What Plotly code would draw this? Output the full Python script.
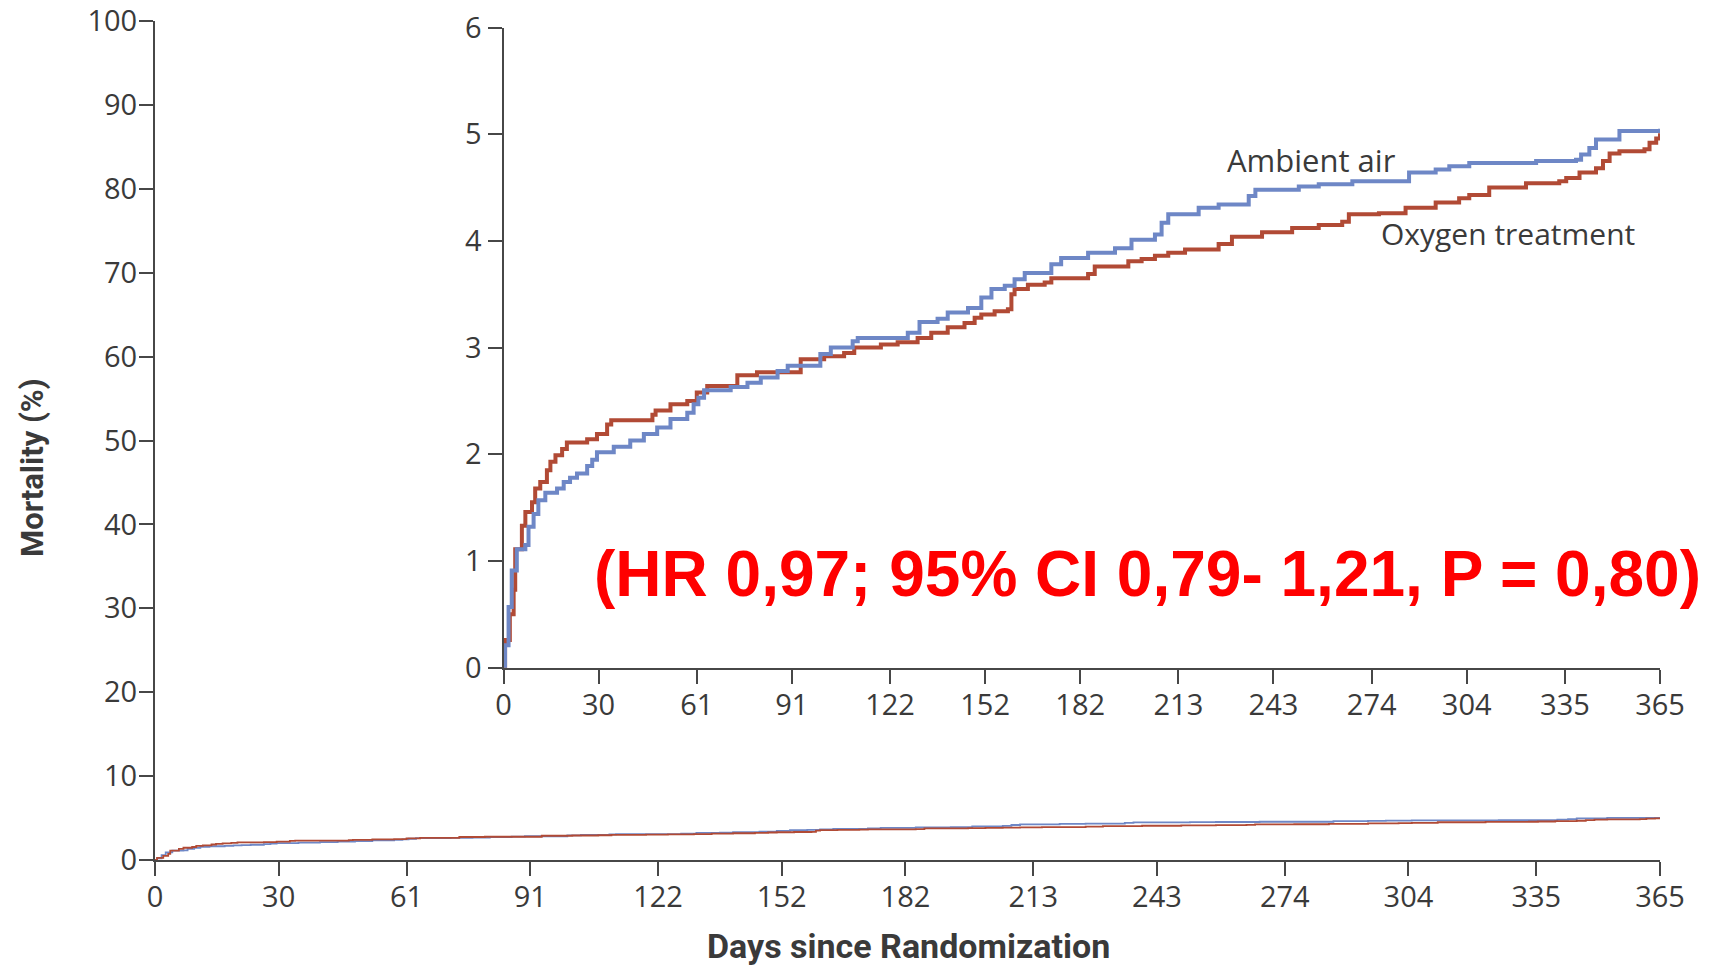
import plotly.graph_objects as go

# ---------------- data ----------------
tick_days = [0, 30, 61, 91, 122, 152, 182, 213, 243, 274, 304, 335, 365]

oxygen_days = [0, 0.5, 2, 3.2, 3.7, 5.8, 6.9, 9, 10, 11.6, 13.7, 14.8, 16.4, 18.5, 20,
               26.4, 29.5, 32.7, 34, 47, 48, 52.7, 58, 61, 64.3, 73.8, 80, 93.8, 101.2,
               107.5, 110.7, 119.1, 124.4, 130.7, 135, 140.2, 145.5, 148.7, 150.8, 155,
               159.2, 160.3, 161.3, 165.5, 170.8, 172.9, 184.5, 186.6, 197.2, 201.4,
               205.6, 209.8, 215.1, 225.7, 229.9, 239.4, 248.9, 257.3, 264.7, 266.8,
               276.3, 284.7, 294.2, 301.6, 304.8, 311.1, 322.7, 333.2, 335.4, 339.6,
               344.8, 347, 349.1, 352.2, 360.1, 361.7, 363.8, 365]
oxygen_mort = [0, 0.26, 0.5, 0.73, 1.11, 1.33, 1.46, 1.55, 1.68, 1.74, 1.85, 1.93, 1.99, 2.05, 2.11,
               2.14, 2.19, 2.28, 2.32, 2.37, 2.41, 2.47, 2.50, 2.58, 2.64, 2.74, 2.77, 2.89, 2.92,
               2.95, 3.00, 3.03, 3.05, 3.09, 3.14, 3.19, 3.23, 3.28, 3.31, 3.34,
               3.36, 3.50, 3.55, 3.59, 3.61, 3.65, 3.69, 3.76, 3.81, 3.83,
               3.86, 3.89, 3.92, 3.97, 4.04, 4.08, 4.12, 4.15, 4.18, 4.25,
               4.26, 4.31, 4.36, 4.40, 4.43, 4.50, 4.54, 4.56, 4.59, 4.64,
               4.68, 4.75, 4.82, 4.84, 4.86, 4.92, 4.96, 5.01]

ambient_days = [0, 0.5, 1.6, 2.6, 4.2, 6.9, 7.9, 9.5, 11, 13.2, 16.9, 19, 21, 23.2, 26.4, 28,
                29.5, 34.8, 40, 44.3, 48.5, 52.7, 58, 60, 61.5, 63.3, 71.7, 77, 81.2, 86.5,
                89.7, 100, 103.3, 110.2, 111.8, 127.6, 131.3, 137, 140.2, 146.6, 150.8, 154,
                158.2, 161.3, 164.5, 172.9, 176, 184.5, 193, 198.2, 205.6, 207.7, 209.8,
                219.4, 225.7, 235.2, 237.3, 251, 257.3, 267.9, 285.8, 294.2, 298.5, 304.8,
                325.9, 338.5, 340.1, 342.7, 344.8, 352.2, 365]
ambient_mort = [0, 0.21, 0.57, 0.91, 1.11, 1.15, 1.32, 1.44, 1.57, 1.64, 1.68, 1.74, 1.78, 1.82, 1.89, 1.95,
                2.02, 2.07, 2.13, 2.19, 2.25, 2.33, 2.39, 2.47, 2.53, 2.60, 2.63, 2.67, 2.72, 2.78,
                2.83, 2.94, 3.00, 3.06, 3.09, 3.14, 3.24, 3.27, 3.33, 3.37, 3.47, 3.55,
                3.58, 3.64, 3.70, 3.78, 3.84, 3.89, 3.93, 4.01, 4.06, 4.17, 4.25,
                4.31, 4.34, 4.42, 4.48, 4.51, 4.53, 4.56, 4.64, 4.67, 4.70, 4.73,
                4.75, 4.76, 4.81, 4.87, 4.95, 5.03, 5.05]

main_yticks = list(range(0, 101, 10))
inset_yticks = [0, 1, 2, 3, 4, 5, 6]

series_names = ["Ambient air", "Oxygen treatment"]
annotation_text = "(HR 0,97; 95% CI 0,79- 1,21, P = 0,80)"
x_title = "Days since Randomization"
y_title = "Mortality (%)"

# ---------------- styling ----------------
BLUE = "#6E87C6"
RED = "#B14A35"
AXIS = "#474747"
TXT = "#3a3a3a"
FONT = "Open Sans, Noto Sans, sans-serif"
COND = "Liberation Sans Narrow, Arial Narrow, Roboto, sans-serif"

W, H = 1711, 966
L, T = 155, 21
R = W - 1660
B = H - 860
plot_w = W - L - R
plot_h = H - T - B

def px_x(p):                 # p: x pixel in window coordinates
    return (p - L) / plot_w

def px_y(p):
    return (H - B - p) / plot_h

fig = go.Figure()

# main panel curves (thin)
fig.add_trace(go.Scatter(x=ambient_days, y=ambient_mort, mode="lines", line_shape="hv",
                         line=dict(color=BLUE, width=1.8), xaxis="x", yaxis="y",
                         showlegend=False, hoverinfo="skip"))
fig.add_trace(go.Scatter(x=oxygen_days, y=oxygen_mort, mode="lines", line_shape="hv",
                         line=dict(color=RED, width=1.8), xaxis="x", yaxis="y",
                         showlegend=False, hoverinfo="skip"))

# inset curves
fig.add_trace(go.Scatter(x=oxygen_days, y=oxygen_mort, mode="lines", line_shape="hv",
                         line=dict(color=RED, width=4), xaxis="x2", yaxis="y2",
                         name=series_names[1], showlegend=False))
fig.add_trace(go.Scatter(x=ambient_days, y=ambient_mort, mode="lines", line_shape="hv",
                         line=dict(color=BLUE, width=4), xaxis="x2", yaxis="y2",
                         name=series_names[0], showlegend=False))

def axis_style(standoff):
    return dict(showline=True, linecolor=AXIS, linewidth=2, ticks="outside",
                ticklen=14, tickwidth=2, tickcolor=AXIS, showgrid=False,
                zeroline=False, automargin=False, ticklabelstandoff=standoff,
                ticklabeloverflow="allow",
                tickfont=dict(family=FONT, size=29, color=TXT))

inset_x0 = px_x(503.5)
inset_y0 = px_y(667.7)
inset_y1 = px_y(27.5)

fig.update_layout(
    width=W, height=H,
    margin=dict(l=L, r=R, t=T, b=B, autoexpand=False),
    paper_bgcolor="white", plot_bgcolor="rgba(0,0,0,0)",
    xaxis=dict(domain=[0, 1], range=[0, 365], tickvals=tick_days,
               ticktext=[str(d) for d in tick_days], anchor="y", **axis_style(-4)),
    yaxis=dict(domain=[0, 1], range=[0, 100], tickvals=main_yticks, anchor="x",
               **axis_style(-4)),
    xaxis2=dict(domain=[inset_x0, 1], range=[0, 365], tickvals=tick_days,
                ticktext=[str(d) for d in tick_days], anchor="y2", **axis_style(-4)),
    yaxis2=dict(domain=[inset_y0, inset_y1], range=[0, 6], tickvals=inset_yticks,
                anchor="x2", **axis_style(0)),
    showlegend=False,
)

annotations = [
    dict(text="<b>%s</b>" % x_title, xref="paper", yref="paper",
         x=px_x(908), y=px_y(946), xanchor="center", yanchor="middle",
         showarrow=False, font=dict(family=COND, size=34, color=TXT)),
    dict(text="<b>%s</b>" % y_title, xref="paper", yref="paper",
         x=px_x(33), y=px_y(468), xanchor="center", yanchor="middle", textangle=-90,
         showarrow=False, font=dict(family=COND, size=31, color=TXT)),
    dict(text=series_names[0], xref="paper", yref="paper",
         x=px_x(1311), y=px_y(160), xanchor="center", yanchor="middle",
         showarrow=False, font=dict(family=FONT, size=31, color=TXT)),
    dict(text=series_names[1], xref="paper", yref="paper",
         x=px_x(1508), y=px_y(233), xanchor="center", yanchor="middle",
         showarrow=False, font=dict(family=FONT, size=30, color=TXT)),
    dict(text="<b>%s</b>" % annotation_text, xref="paper", yref="paper",
         x=px_x(1147), y=px_y(574), xanchor="center", yanchor="middle",
         showarrow=False, font=dict(family="Liberation Sans, Arial, sans-serif", size=64, color="#FF0000")),
]
fig.update_layout(annotations=annotations)

# remove the page's default body margin so the figure sits at the window origin
fig.write_html("out.html", config={"displayModeBar": False},
               post_script="document.body.style.margin='0px';")
